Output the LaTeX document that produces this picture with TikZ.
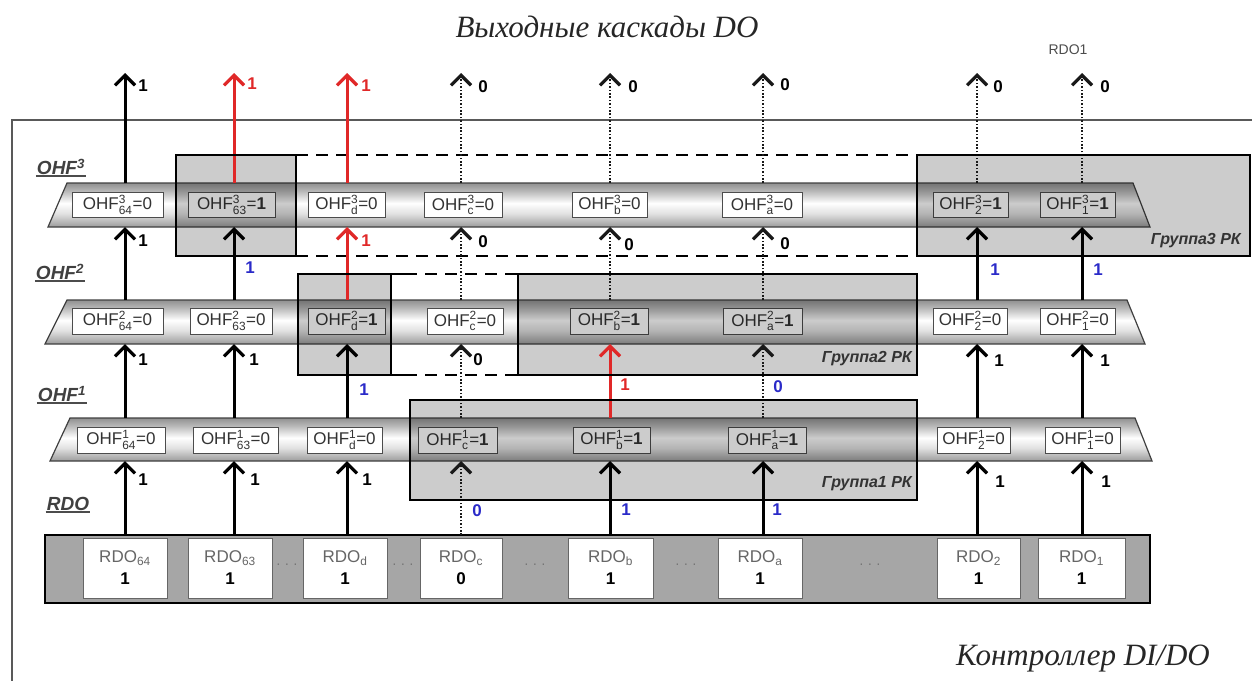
\documentclass[tikz,border=0pt]{standalone}
\usepackage{fontspec}
\usepackage{amsmath}
\setmainfont{Liberation Sans}
\newfontfamily\serifit{Liberation Serif}
\usetikzlibrary{arrows.meta}
\definecolor{dred}{HTML}{E02828}
\definecolor{dblue}{HTML}{2A2AC8}
\pgfdeclareverticalshading{metal}{100bp}{color(0bp)=(black!72); color(16bp)=(black!55); color(40bp)=(black!12); color(52bp)=(white); color(66bp)=(black!28); color(86bp)=(black!62); color(100bp)=(black!72)}
\newcommand\ohf[3]{OHF$^{\text{#1}}_{\text{#2}}$=#3}
\begin{document}
\begin{tikzpicture}[x=1pt,y=-1pt,
  bar/.style={draw=black!75, line width=1.2pt, shading=metal},
  cell/.style={draw=black!70, fill=white, line width=0.9pt, inner sep=0pt, font=\fontsize{17}{19}\selectfont, text=black!80},
  rcell/.style={draw=black!60, fill=white, line width=0.9pt, inner sep=0pt, align=center, font=\fontsize{17}{22}\selectfont},
  grp/.style={fill=black, fill opacity=0.2, draw=none},
  grpb/.style={draw=black, line width=2.5pt},
  dsh/.style={draw=black, line width=2.5pt, dash pattern=on 12pt off 8pt},
  sol/.style={draw=black, line width=3pt, -{Straight Barb[length=10pt,width=20pt,line width=3.2pt]}},
  rsol/.style={sol, draw=dred},
  dot/.style={draw=black!90, line width=2.2pt, dash pattern=on 1.6pt off 1.8pt, -{Straight Barb[length=10pt,width=20pt,line width=3.2pt]}},
  lab/.style={font=\bfseries\fontsize{17}{19}\selectfont, inner sep=0pt},
  rowlab/.style={font=\bfseries\itshape\fontsize{19}{21}\selectfont, text=black!75, inner sep=1pt},
  glab/.style={font=\bfseries\itshape\fontsize{16}{18}\selectfont, text=black!80, anchor=east, inner sep=0pt},
  dots/.style={font=\fontsize{14}{16}\selectfont, text=black!55}
]
\useasboundingbox (0,0) rectangle (1252,680);
% frame
\draw[black!65, line width=1.5pt] (12,682) -- (12,120) -- (1254,120);
% titles
\node[font=\serifit\itshape\fontsize{31}{34}\selectfont, text=black!85] (title) at (607,27) {Выходные каскады DO};
\node[font=\fontsize{14}{16}\selectfont, text=black!70] (rdo1) at (1068,50) {RDO1};
\node[font=\serifit\itshape\fontsize{31}{34}\selectfont, text=black!85] (ctrl) at (1083,659) {Контроллер DI/DO};
% bars
\path[bar] (48,227) -- (67,183) -- (1133,183) -- (1150,227) -- cycle;
\path[bar] (45,344) -- (67,300) -- (1127,300) -- (1145,344) -- cycle;
\path[bar] (50,461) -- (70,418) -- (1135,418) -- (1152,461) -- cycle;
% RDO row
\draw[fill=black!35, line width=2.5pt] (45,535) rectangle (1150,603);
\foreach \x/\w/\s/\v [count=\i] in {125/84/64/1, 230/84/63/1, 345/84/d/1, 461/82/c/0, 610.5/85/b/1, 760/84/a/1, 978.5/83/2/1, 1081.5/87/1/1}
  \node[rcell, minimum width=\w pt, minimum height=60pt] (rd\i) at (\x,568) {\textcolor{black!60}{RDO$_{\text{\s}}$}\\\textbf{\v}};
\foreach \x [count=\i] in {287,403,535,686,870}
  \node[dots] (dd\i) at (\x,566) {· · ·};
% OHF cells
\foreach \x/\w/\s/\v [count=\i] in {117.5/91/64/0, 231.5/87/63/\textbf{1}, 346.5/77/d/0, 463/78/c/0, 609.5/75/b/0, 762/80/a/0, 970.5/75/2/\textbf{1}, 1077.5/75/1/\textbf{1}}
  \node[cell, minimum width=\w pt, minimum height=25pt] (c3\i) at (\x,205) {\ohf{3}{\s}{\v}};
\foreach \x/\w/\s/\v [count=\i] in {117.5/91/64/0, 231/82/63/0, 346.5/77/d/\textbf{1}, 465/76/c/0, 609/78/b/\textbf{1}, 762.5/79/a/\textbf{1}, 970/74/2/0, 1077.5/75/1/0}
  \node[cell, minimum width=\w pt, minimum height=26pt] (c2\i) at (\x,321) {\ohf{2}{\s}{\v}};
\foreach \x/\w/\s/\v [count=\i] in {121/88/64/0, 235.5/85/63/0, 344.5/75/d/0, 457.5/79/c/\textbf{1}, 611.5/77/b/\textbf{1}, 767/78/a/\textbf{1}, 973.5/73/2/0, 1082.5/75/1/0}
  \node[cell, minimum width=\w pt, minimum height=26pt] (c1\i) at (\x,440) {\ohf{1}{\s}{\v}};
% group fills
\path[grp] (176,155) rectangle (296,256);
\path[grp] (917,155) rectangle (1250,256);
\path[grp] (298,274) rectangle (391,375);
\path[grp] (518,274) rectangle (917,375);
\path[grp] (410,400) rectangle (917,500);
% dashed links
\draw[dsh] (296,155) -- (917,155);
\draw[dsh] (296,256) -- (917,256);
\draw[dsh] (405,274) -- (518,274);
\draw[dsh] (405,375) -- (518,375);
% coordinates
\foreach \x [count=\i] in {125,234,347,461,610,763,977,1082} {
  \coordinate (o\i) at (\x,73);
  \coordinate (t3\i) at (\x,183);
  \coordinate (b3\i) at (\x,227);
  \coordinate (t2\i) at (\x,300);
  \coordinate (b2\i) at (\x,344);
  \coordinate (t1\i) at (\x,418);
  \coordinate (b1\i) at (\x,461);
  \coordinate (r\i) at (\x,535);
}
% top outputs
\draw[sol] (t31) -- (o1);
\draw[rsol] (t32) -- (o2);
\draw[rsol] (t33) -- (o3);
\foreach \i in {4,...,8} \draw[dot] (t3\i) -- (o\i);
% OHF2 -> OHF3
\draw[sol] (t21) -- (b31);
\draw[sol] (t22) -- (b32);
\draw[rsol] (t23) -- (b33);
\foreach \i in {4,5,6} \draw[dot] (t2\i) -- (b3\i);
\draw[sol] (t27) -- (b37);
\draw[sol] (t28) -- (b38);
% OHF1 -> OHF2
\draw[sol] (t11) -- (b21);
\draw[sol] (t12) -- (b22);
\draw[sol] (t13) -- (b23);
\draw[dot] (t14) -- (b24);
\draw[rsol] (t15) -- (b25);
\draw[dot] (t16) -- (b26);
\draw[sol] (t17) -- (b27);
\draw[sol] (t18) -- (b28);
% RDO -> OHF1
\draw[sol] (r1) -- (b11);
\draw[sol] (r2) -- (b12);
\draw[sol] (r3) -- (b13);
\draw[dot] (r4) -- (b14);
\draw[sol] (r5) -- (b15);
\draw[sol] (r6) -- (b16);
\draw[sol] (r7) -- (b17);
\draw[sol] (r8) -- (b18);
% group borders
\draw[grpb] (176,155) rectangle (296,256);
\draw[grpb] (917,155) rectangle (1250,256);
\draw[grpb] (298,274) rectangle (391,375);
\draw[grpb] (391,274) -- (405,274);
\draw[grpb] (391,375) -- (405,375);
\draw[grpb] (518,274) rectangle (917,375);
\draw[grpb] (410,400) rectangle (917,500);
\node[glab] (g3) at (1241,241) {Группа3 РК};
\node[glab] (g2) at (912,359) {Группа2 РК};
\node[glab] (g1) at (912,484) {Группа1 РК};
% value labels
\foreach \x/\y/\t/\c [count=\k] in {
  143/86/1/black, 252/84/1/dred, 366/86/1/dred, 483/87/0/black, 633/87/0/black, 785/85/0/black, 998/87/0/black, 1105/87/0/black,
  143/241/1/black, 250/268/1/dblue, 366/241/1/dred, 483/242/0/black, 629/245/0/black, 785/244/0/black, 995/270/1/dblue, 1098/270/1/dblue,
  143/360/1/black, 254/360/1/black, 364/390/1/dblue, 478/360/0/black, 625/385/1/dred, 778/387/0/dblue, 999/361/1/black, 1105/361/1/black,
  143/480/1/black, 255/480/1/black, 367/480/1/black, 477/511/0/dblue, 626/510/1/dblue, 777/510/1/dblue, 1000/482/1/black, 1106/482/1/black}
  \node[lab, text=\c] (v\k) at (\x,\y) {\t};
% row labels
\node[rowlab] (h3) at (61,167) {OHF\textsuperscript{3}};
\node[rowlab] (h2) at (60,272) {OHF\textsuperscript{2}};
\node[rowlab] (h1) at (62,394) {OHF\textsuperscript{1}};
\node[rowlab] (h0) at (68,504) {RDO};
\foreach \n in {h3,h2,h1,h0} \draw[black!70, line width=2pt] (\n.south west) -- (\n.south east);
\end{tikzpicture}
\end{document}
